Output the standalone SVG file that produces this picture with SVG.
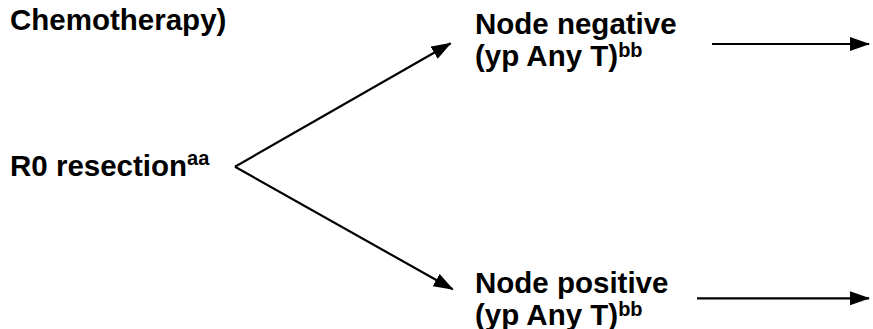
<svg xmlns="http://www.w3.org/2000/svg" width="873" height="329" viewBox="0 0 873 329">
  <style>
    .t { font-family: "Liberation Sans", Arial, sans-serif; font-weight: bold; font-size: 29.5px; fill: #000; }
    .sup { font-size: 20px; }
    .c { stroke: #000; stroke-width: 2.2; fill: none; }
  </style>
  <defs>
    <marker id="ah" markerUnits="userSpaceOnUse" markerWidth="20" markerHeight="14" refX="19" refY="7" orient="auto">
      <path d="M0,0 L20,7 L0,14 z" fill="#000"/>
    </marker>
  </defs>
  <rect width="873" height="329" fill="#fff"/>
  <g id="chemo">
    <text class="t" x="10" y="30">Chemotherapy)</text>
  </g>
  <g id="r0">
    <text class="t" x="10" y="176">R0 resection<tspan class="sup" dy="-11">aa</tspan></text>
  </g>
  <g id="nodeneg">
    <text class="t" x="475" y="33.5">Node negative</text>
    <text class="t" x="475" y="66">(yp Any T)<tspan class="sup" dy="-9">bb</tspan></text>
  </g>
  <g id="nodepos">
    <text class="t" x="475" y="292.5">Node positive</text>
    <text class="t" x="475" y="325">(yp Any T)<tspan class="sup" dy="-9">bb</tspan></text>
  </g>
  <g id="connectors">
    <line class="c" x1="235" y1="166.7" x2="450.7" y2="43.3" marker-end="url(#ah)"/>
    <line class="c" x1="235" y1="166.7" x2="452.7" y2="289.3" marker-end="url(#ah)"/>
    <line class="c" x1="712" y1="44" x2="869" y2="44" marker-end="url(#ah)"/>
    <line class="c" x1="697" y1="298.3" x2="869" y2="298.3" marker-end="url(#ah)"/>
  </g>
</svg>
